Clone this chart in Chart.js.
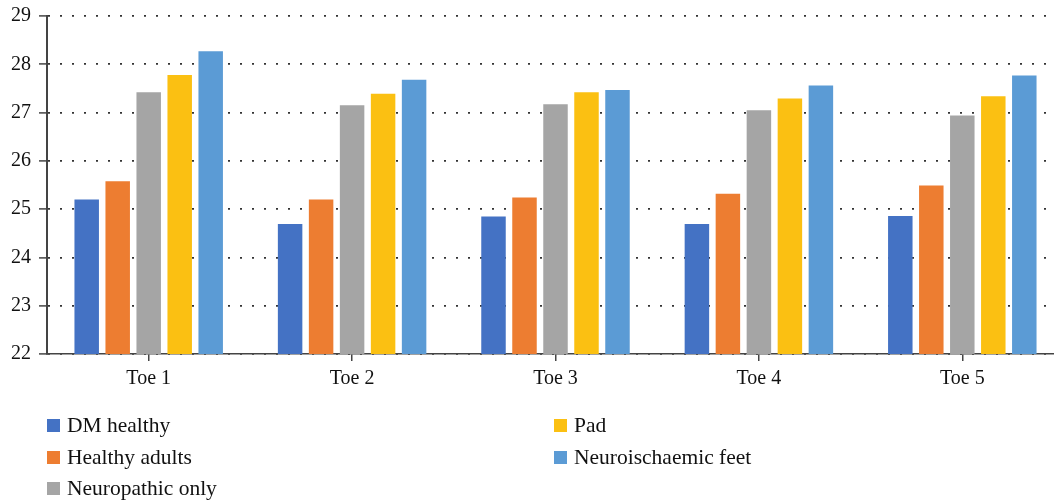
<!DOCTYPE html>
<html>
<head>
<meta charset="utf-8">
<script src="https://cdn.jsdelivr.net/npm/chart.js@4/dist/chart.umd.min.js"></script>
<style>
  html, body { margin: 0; padding: 0; background: #fff; overflow: hidden; }
  #wrap { position: relative; width: 1054px; height: 504px; overflow: hidden; }
  #box { position: absolute; left: 0; top: -4px; width: 1064px; height: 401px; }
  #legend { position: absolute; left: 0; top: 0; width: 1054px; height: 504px; pointer-events: none;
            font-family: "Liberation Serif", "Times New Roman", serif; font-size: 21.5px; color: #111; }
  .li { position: absolute; display: flex; align-items: center; white-space: nowrap; }
  .sw { width: 13px; height: 13px; margin-right: 7px; }
</style>
</head>
<body>
<div id="wrap">
  <div id="box"><canvas id="c"></canvas></div>
  <div id="legend"></div>
</div>
<script>
const categories = ["Toe 1", "Toe 2", "Toe 3", "Toe 4", "Toe 5"];
const seriesNames = ["DM healthy", "Healthy adults", "Neuropathic only", "Pad", "Neuroischaemic feet"];
const dmHealthy = [25.20, 24.69, 24.85, 24.69, 24.86];
const healthyAdults = [25.58, 25.20, 25.24, 25.32, 25.49];
const neuropathicOnly = [27.42, 27.15, 27.17, 27.05, 26.94];
const pad = [27.78, 27.39, 27.42, 27.29, 27.34];
const neuroischaemicFeet = [28.27, 27.68, 27.47, 27.56, 27.77];
const yTicks = [22, 23, 24, 25, 26, 27, 28, 29];
const colors = ["#4472C4", "#ED7D31", "#A5A5A5", "#FBC012", "#5B9BD5"];

const seriesValues = [dmHealthy, healthyAdults, neuropathicOnly, pad, neuroischaemicFeet];
const FONT = "'Liberation Serif', 'Times New Roman', serif";

const chart = new Chart(document.getElementById('c'), {
  type: 'bar',
  data: {
    labels: categories,
    datasets: seriesNames.map((name, i) => ({
      label: name,
      data: seriesValues[i],
      backgroundColor: colors[i],
      borderWidth: 0,
      categoryPercentage: 0.762,
      barPercentage: 0.79
    }))
  },
  options: {
    responsive: true,
    maintainAspectRatio: false,
    animation: false,
    layout: { padding: { top: 0, left: 3, right: 0, bottom: 0 } },
    plugins: { legend: { display: false }, tooltip: { enabled: false } },
    scales: {
      x: {
        grid: { display: true, drawOnChartArea: false, drawTicks: true, tickLength: 7, offset: false,
                color: '#444', lineWidth: 1.5 },
        border: { display: true, color: '#444', width: 1.5 },
        ticks: { color: '#111', font: { family: FONT, size: 20 }, padding: 6 }
      },
      y: {
        min: 22, max: 29,
        afterBuildTicks: (axis) => { axis.ticks = yTicks.map(v => ({ value: v })); },
        grid: { color: '#333', lineWidth: 1.8, drawTicks: true, tickLength: 8,
                tickBorderDash: [], tickColor: '#444', tickWidth: 1.5 },
        border: { display: true, color: '#444', width: 2, dash: [2, 10] },
        ticks: { color: '#111', font: { family: FONT, size: 20 }, padding: 8 }
      }
    }
  }
});

// HTML legend in two columns (column-major), built from the chart datasets
const legendPos = [
  { x: 47, y: 425 }, { x: 47, y: 457 }, { x: 47, y: 488 },
  { x: 554, y: 425 }, { x: 554, y: 457 }
];
const lg = document.getElementById('legend');
chart.data.datasets.forEach((ds, i) => {
  const d = document.createElement('div');
  d.className = 'li';
  d.style.left = legendPos[i].x + 'px';
  d.style.top = (legendPos[i].y - 13) + 'px';
  d.style.height = '26px';
  const sw = document.createElement('span');
  sw.className = 'sw';
  sw.style.background = ds.backgroundColor;
  const t = document.createElement('span');
  t.textContent = ds.label;
  d.appendChild(sw); d.appendChild(t);
  lg.appendChild(d);
});
</script>
</body>
</html>
